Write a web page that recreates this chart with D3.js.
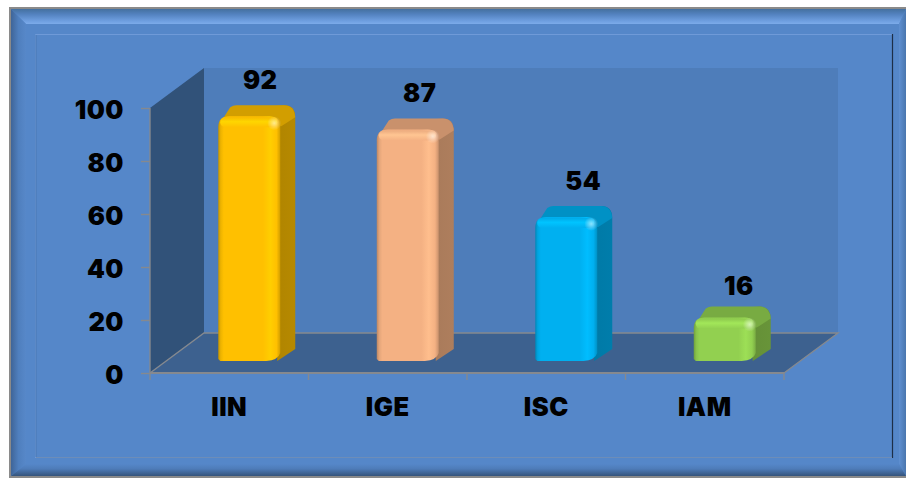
<!DOCTYPE html>
<html>
<head>
<meta charset="utf-8">
<script src="https://cdn.jsdelivr.net/npm/d3@7"></script>
<style>
  html, body { margin: 0; padding: 0; background: #fff; }
  svg { display: block; }
  text { font-family: Inter, "Open Sans", sans-serif; font-weight: 900; fill: #000; letter-spacing: 0.5px; }
</style>
</head>
<body>
<div id="chart"></div>
<script>
// chart values
var categories = ["IIN", "IGE", "ISC", "IAM"];
var values = [92, 87, 54, 16];
var yTicks = [0, 20, 40, 60, 80, 100];
var barColors = ["#ffc000", "#f4b183", "#00b0f0", "#92d050"];

var width = 906, height = 478;
var panelColor = "#5587c9";
var fontSize = "25.5px";

// 3d box of the plot
var plot = {left: 150, right: 784, top: 108, bottom: 373, depthX: 54, depthY: 40};

var svg = d3.select("#chart").append("svg")
    .attr("width", width)
    .attr("height", height);

var defs = svg.append("defs");

function linear(id, horizontal, stops) {
    var g = defs.append("linearGradient").attr("id", id)
        .attr("x1", 0).attr("y1", 0)
        .attr("x2", horizontal ? 1 : 0).attr("y2", horizontal ? 0 : 1);
    stops.forEach(function(s) {
        g.append("stop").attr("offset", s[0]).attr("stop-color", s[1]).attr("stop-opacity", s[2] === undefined ? 1 : s[2]);
    });
}

// frame
linear("bevelTop", false, [[0, "#44709f"], [0.35, "#5382bf"], [0.8, "#6f9fe0"], [1, "#7cabea"]]);
linear("bevelLeft", true, [[0, "#3f6598"], [0.5, "#4f7fbe"], [1, "#5788c9"]]);
linear("bevelRight", true, [[0, "#5f90d2"], [1, "#4a76ae"]]);
linear("bevelBottom", false, [[0, "#5587c9"], [0.4, "#4e7cb9"], [1, "#35547c"]]);

var frame = {l: 11, t: 9, r: 906, b: 476, il: 26, it: 24, ir: 899, ib: 464};

function poly(points, fill) {
    return svg.append("polygon")
        .attr("points", points.map(function(p) { return p.join(","); }).join(" "))
        .attr("fill", fill);
}

svg.append("rect").attr("x", 9).attr("y", 7).attr("width", 897).attr("height", 471).attr("fill", "#8a8a8a");
svg.append("rect").attr("x", frame.l).attr("y", frame.t).attr("width", frame.r - frame.l).attr("height", frame.b - frame.t).attr("fill", panelColor);
poly([[frame.l, frame.t], [frame.r, frame.t], [frame.ir, frame.it], [frame.il, frame.it]], "url(#bevelTop)");
poly([[frame.l, frame.t], [frame.il, frame.it], [frame.il, frame.ib], [frame.l, frame.b]], "url(#bevelLeft)");
poly([[frame.r, frame.t], [frame.r, frame.b], [frame.ir, frame.ib], [frame.ir, frame.it]], "url(#bevelRight)");
poly([[frame.l, frame.b], [frame.il, frame.ib], [frame.ir, frame.ib], [frame.r, frame.b]], "url(#bevelBottom)");

// inner panel
svg.append("rect").attr("x", 36).attr("y", 34).attr("width", 856).attr("height", 423)
    .attr("fill", panelColor);
svg.append("path").attr("d", "M35.5,458V34.5H892").attr("fill", "none").attr("stroke", "#6f9ad8").attr("stroke-width", 1);
svg.append("line").attr("x1", 36).attr("x2", 36).attr("y1", 35).attr("y2", 457).attr("stroke", "#4a78b4").attr("stroke-width", 1);
svg.append("line").attr("x1", 892.5).attr("x2", 892.5).attr("y1", 34).attr("y2", 458).attr("stroke", "#1d2f48").attr("stroke-width", 1.2);
svg.append("line").attr("x1", 36).attr("x2", 892).attr("y1", 457.5).attr("y2", 457.5).attr("stroke", "#6d8db8").attr("stroke-width", 1);

// scales
var x = d3.scaleBand().domain(categories).range([plot.left, plot.right]);
var y = d3.scaleLinear().domain([0, 100]).range([plot.bottom, plot.top]);

// walls
var dx = plot.depthX, dy = plot.depthY;
poly([[plot.left + dx, plot.top - dy], [plot.right + dx, plot.top - dy], [plot.right + dx, plot.bottom - dy], [plot.left + dx, plot.bottom - dy]], "#4e7dba");
poly([[plot.left, plot.top], [plot.left + dx, plot.top - dy], [plot.left + dx, plot.bottom - dy], [plot.left, plot.bottom]], "#315279");
poly([[plot.left, plot.bottom], [plot.left + dx, plot.bottom - dy], [plot.right + dx, plot.bottom - dy], [plot.right, plot.bottom]], "#3d618f");

// axis lines on the floor
var axisColor = "#85898f";
svg.append("path")
    .attr("d", d3.line()([[plot.left, plot.bottom], [plot.left + dx, plot.bottom - dy], [plot.right + dx, plot.bottom - dy], [plot.right, plot.bottom]]))
    .attr("fill", "none").attr("stroke", axisColor).attr("stroke-width", 1.4);

// y axis
var yAxis = svg.append("g")
    .attr("transform", "translate(" + plot.left + ",0)")
    .call(d3.axisLeft(y).tickValues(yTicks).tickSize(9).tickPadding(17));
yAxis.selectAll("path").attr("d", "M0," + plot.top + "V" + plot.bottom).attr("stroke", axisColor).attr("stroke-width", 1.4);
yAxis.selectAll(".tick line").attr("stroke", axisColor).attr("stroke-width", 1.4);
yAxis.selectAll("text").style("font-size", fontSize).style("font-family", "Inter").style("font-weight", 900).attr("dy", "0.4em").attr("fill", "#000");

// x axis, ticks sit between the bands
var xAxis = svg.append("g").attr("transform", "translate(0," + plot.bottom + ")");
xAxis.append("path").attr("d", "M" + plot.left + ",0H" + plot.right).attr("stroke", axisColor).attr("stroke-width", 2).attr("fill", "none");
xAxis.selectAll("line.sep").data(d3.range(categories.length + 1)).enter().append("line")
    .attr("class", "sep")
    .attr("x1", function(i) { return plot.left + i * x.bandwidth(); })
    .attr("x2", function(i) { return plot.left + i * x.bandwidth(); })
    .attr("y1", 0).attr("y2", 7)
    .attr("stroke", axisColor).attr("stroke-width", 1.4);
xAxis.selectAll("text.cat").data(categories).enter().append("text")
    .attr("class", "cat")
    .attr("x", function(d) { return x(d) + x.bandwidth() / 2; })
    .attr("y", 43)
    .attr("text-anchor", "middle")
    .style("font-size", fontSize)
    .text(function(d) { return d; });

// bars
var barW = 62, barLift = 12, depthW = 15, depthH = 11, r = 9;
var barOffset = 20;
var labelNudge = [0, 1, 6, 3];

function shade(c, k) { return d3.color(c).darker(k).formatHex(); }

categories.forEach(function(cat, i) {
    var color = barColors[i];
    var v = values[i];
    var x0 = x(cat) + (x.bandwidth() - barW) / 2 + barOffset;
    var x1 = x0 + barW;
    var base = plot.bottom - barLift;
    var top = y(v) - barLift - 1;
    var id = "bar" + i;

    linear(id + "front", true, [[0, shade(color, 0.75)], [0.04, shade(color, 0.2)], [0.09, color], [0.72, color], [0.84, d3.color(color).brighter(0.2).formatHex()], [0.94, color], [1, shade(color, 0.55)]]);
    linear(id + "top", false, [[0, shade(color, 0.1)], [0.45, d3.color(color).brighter(0.3).formatHex()], [1, color]]);
    linear(id + "side", true, [[0, shade(color, 1.05)], [1, shade(color, 0.95)]]);
    var hl = defs.append("radialGradient").attr("id", id + "hl");
    hl.append("stop").attr("offset", 0).attr("stop-color", "#fff").attr("stop-opacity", 0.55);
    hl.append("stop").attr("offset", 1).attr("stop-color", "#fff").attr("stop-opacity", 0);

    var g = svg.append("g");

    // right side, behind the front
    var sidePath = d3.path();
    sidePath.moveTo(x1 - r, top - depthH + 1);
    sidePath.lineTo(x1 + depthW - r - 2, top - depthH);
    sidePath.quadraticCurveTo(x1 + depthW, top - depthH, x1 + depthW, top - depthH + r + 3);
    sidePath.lineTo(x1 + depthW, base - depthH - 1);
    sidePath.lineTo(x1 - 3, base);
    sidePath.closePath();
    g.append("path").attr("d", sidePath.toString()).attr("fill", "url(#" + id + "side)");

    // top face
    var topPath = d3.path();
    topPath.moveTo(x0 + 3, top + 5);
    topPath.lineTo(x0 + depthW - 3, top - depthH + 2);
    topPath.quadraticCurveTo(x0 + depthW, top - depthH, x0 + depthW + 3, top - depthH);
    topPath.lineTo(x1 + depthW - r - 2, top - depthH);
    topPath.quadraticCurveTo(x1 + depthW - 1, top - depthH, x1 + depthW, top - depthH + r + 3);
    topPath.lineTo(x1 + 1, top + 10);
    topPath.lineTo(x0 + 3, top + 10);
    topPath.closePath();
    g.append("path").attr("d", topPath.toString()).attr("fill", shade(color, 0.55));

    // front
    var frontPath = d3.path();
    frontPath.moveTo(x0, base - 2);
    frontPath.lineTo(x0, top + r + 2);
    frontPath.quadraticCurveTo(x0, top, x0 + r + 2, top);
    frontPath.lineTo(x1 - r - 2, top);
    frontPath.quadraticCurveTo(x1, top, x1, top + r + 2);
    frontPath.lineTo(x1, base - 8);
    frontPath.quadraticCurveTo(x1 - 2, base - 1, x1 - 14, base);
    frontPath.lineTo(x0 + 2, base);
    frontPath.closePath();
    g.append("path").attr("d", frontPath.toString()).attr("fill", "url(#" + id + "front)");

    // bevel and the small highlight on the top right corner
    g.append("rect").attr("x", x0 + 2).attr("y", top + 1).attr("width", barW - 5).attr("height", 10).attr("rx", 5)
        .attr("fill", "url(#" + id + "top)");
    g.append("circle").attr("cx", x1 - 6).attr("cy", top + 7).attr("r", 7).attr("fill", "url(#" + id + "hl)");

    // value label
    svg.append("text")
        .attr("x", x0 + barW / 2 + 11 + labelNudge[i])
        .attr("y", top - depthH - 16 + (i === 3 ? 4 : 0))
        .attr("text-anchor", "middle")
        .style("font-size", fontSize)
        .text(v);
});
</script>
</body>
</html>
